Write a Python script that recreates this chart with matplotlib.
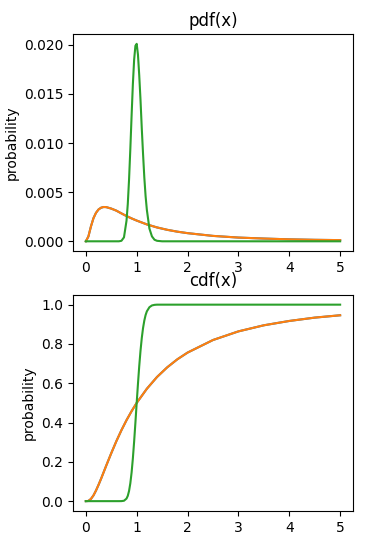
import numpy as np
import matplotlib
matplotlib.use("Agg")
import matplotlib.pyplot as plt

# wide distribution (drawn twice: blue under orange)
x_wide = [0.0, 0.05, 0.1, 0.15, 0.2, 0.25, 0.3, 0.35, 0.4, 0.5, 0.6, 0.7, 0.8, 0.9, 1.0,
          1.2, 1.4, 1.6, 1.8, 2.0, 2.5, 3.0, 3.5, 4.0, 4.5, 5.0]
pdf_wide = [0.0, 0.00048, 0.00150, 0.00235, 0.00290, 0.00324, 0.00342, 0.00349, 0.00348,
            0.00333, 0.00312, 0.00284, 0.00257, 0.00233, 0.00211,
            0.00172, 0.00141, 0.00117, 0.00098, 0.00083, 0.00055, 0.00038, 0.00028,
            0.00020, 0.00015, 0.00012]
cdf_wide = [0.0, 0.001, 0.011, 0.029, 0.054, 0.083, 0.114, 0.147, 0.180, 0.244, 0.305,
            0.361, 0.412, 0.458, 0.500, 0.572, 0.632, 0.681, 0.722, 0.756, 0.820, 0.864,
            0.895, 0.917, 0.934, 0.946]

# narrow distribution
x_narrow = [0.0, 0.5, 0.65, 0.7, 0.75, 0.8, 0.825, 0.85, 0.875, 0.9, 0.925, 0.95, 0.975,
            1.0, 1.025, 1.05, 1.075, 1.1, 1.125, 1.15, 1.175, 1.2, 1.25, 1.3, 1.35, 1.4,
            1.5, 2.0, 3.0, 4.0, 5.0]
pdf_narrow = [0.0, 0.0, 0.0, 0.00005, 0.0004, 0.0021, 0.0038, 0.0063, 0.0094, 0.0128,
              0.0160, 0.0185, 0.0199, 0.0201, 0.0190, 0.0169, 0.0144, 0.0115, 0.0089,
              0.0065, 0.0046, 0.0032, 0.0013, 0.0005, 0.00016, 0.00005, 0.0, 0.0, 0.0,
              0.0, 0.0]
cdf_narrow = [0.0, 0.0, 0.0, 0.0002, 0.002, 0.013, 0.027, 0.052, 0.091, 0.146, 0.218,
              0.304, 0.400, 0.500, 0.597, 0.687, 0.765, 0.830, 0.881, 0.919, 0.947, 0.966,
              0.987, 0.996, 0.999, 1.0, 1.0, 1.0, 1.0, 1.0, 1.0]

xticks = [0, 1, 2, 3, 4, 5]

fig = plt.figure(figsize=(3.73, 5.39), dpi=100)
ax1 = fig.add_axes([0.196, 0.534, 0.750, 0.403])
ax2 = fig.add_axes([0.196, 0.052, 0.750, 0.401])

ax1.plot(x_wide, pdf_wide, color="C0")
ax1.plot(x_wide, pdf_wide, color="C1")
ax1.plot(x_narrow, pdf_narrow, color="C2")
ax1.set_title("pdf(x)")
ax1.set_ylabel("probability")
ax1.set_xticks(xticks)
ax1.set_yticks([0.0, 0.005, 0.010, 0.015, 0.020])
ax1.set_yticklabels(["0.000", "0.005", "0.010", "0.015", "0.020"])

ax2.plot(x_wide, cdf_wide, color="C0")
ax2.plot(x_wide, cdf_wide, color="C1")
ax2.plot(x_narrow, cdf_narrow, color="C2")
ax2.set_title("cdf(x)")
ax2.set_ylabel("probability")
ax2.set_xticks(xticks)

fig.savefig("out.png", dpi=100)
